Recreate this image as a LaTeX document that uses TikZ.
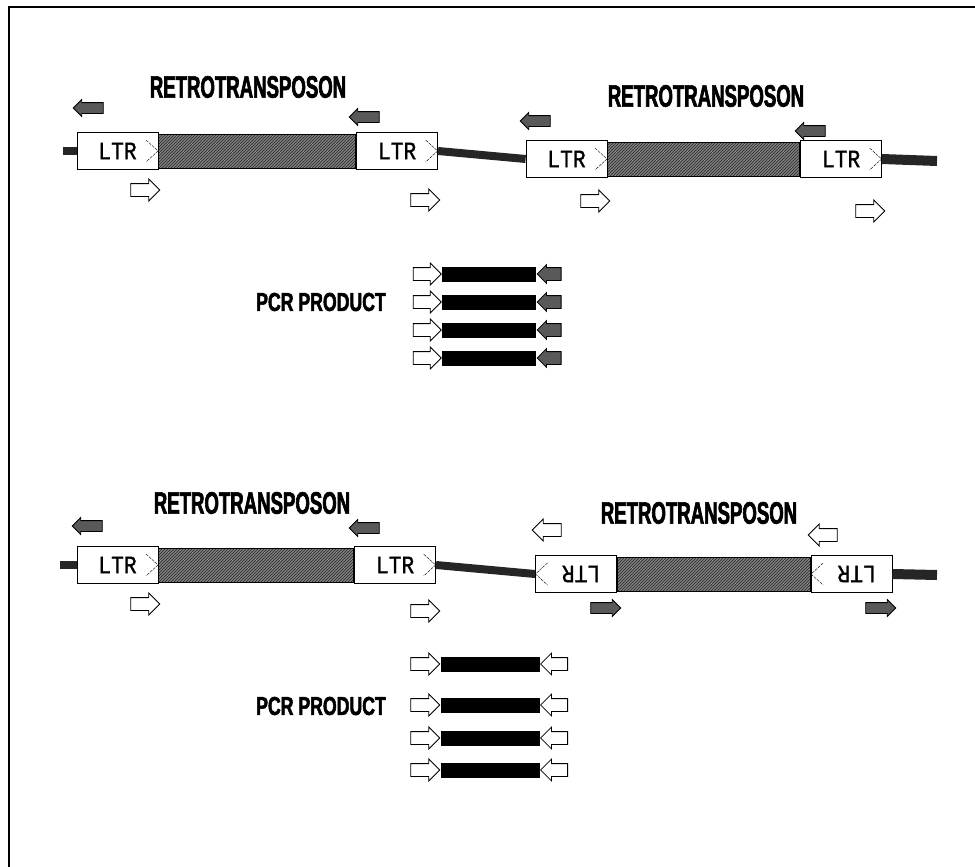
\documentclass[tikz,border=0pt]{standalone}
\usepackage{fontspec}
\usepackage{graphicx}
\usetikzlibrary{positioning,shapes.arrows,patterns}
\newfontfamily\titlefont[FakeStretch=0.6,FakeBold=2]{Liberation Sans}
\newfontfamily\pcrfont[FakeStretch=0.68,FakeBold=2]{Liberation Sans}
\newfontfamily\ltrfont[FakeStretch=0.85,FakeBold=1.2]{Liberation Mono}

\begin{document}
\begin{tikzpicture}[x=1pt,y=-1pt,thick,
  ltr/.style={draw,fill=white,minimum width=81pt,minimum height=37pt,inner sep=0pt,
    font=\ltrfont\fontsize{25}{25}\selectfont,
    path picture={\draw[thin,dash pattern=on 3pt off 1pt]
      ([xshift=-12pt,yshift=11pt]path picture bounding box.east)
      -- (path picture bounding box.east)
      -- ([xshift=-12pt,yshift=-11pt]path picture bounding box.east);}},
  rltr/.style={draw,fill=white,minimum width=81pt,minimum height=37pt,inner sep=0pt,
    font=\ltrfont\fontsize{25}{25}\selectfont,
    path picture={\draw[thin,dash pattern=on 3pt off 1pt]
      ([xshift=12pt,yshift=11pt]path picture bounding box.west)
      -- (path picture bounding box.west)
      -- ([xshift=12pt,yshift=-11pt]path picture bounding box.west);}},
  retrobody/.style={draw,minimum width=#1,minimum height=34pt,inner sep=0pt,
    preaction={fill=black!50},pattern=north east lines,pattern color=black!85},
  backbone/.style={line width=8pt,black!85},
  hprimer/.style={single arrow,draw,fill=white,minimum height=29pt,inner sep=6pt,
    single arrow head extend=4.5pt},
  dprimer/.style={single arrow,draw,fill=black!65,minimum height=30pt,inner sep=5pt,
    single arrow head extend=3pt},
  pcrbar/.style={fill=black,minimum height=15pt,inner sep=0pt},
  retrolabel/.style={inner sep=0pt,font=\titlefont\bfseries\fontsize{31}{31}\selectfont},
  pcrlabel/.style={inner sep=0pt,font=\pcrfont\bfseries\fontsize{26}{26}\selectfont}]
\useasboundingbox (0,0) rectangle (975,867);
\draw[line width=2.5pt] (9,867) -- (9,7) -- (975,7);

% upper pair, both forward
\node[retrolabel] (labA) at (248,87) {RETROTRANSPOSON};
\node[ltr] (ltrA1) at (117.5,151) {LTR\hspace{10pt}};
\node[retrobody=197pt,right=0pt of ltrA1] (bodyA) {};
\node[ltr,right=0pt of bodyA] (ltrA2) {LTR\hspace{10pt}};
\node[retrolabel] (labB) at (706,96) {RETROTRANSPOSON};
\node[ltr] (ltrB1) at (566.5,159) {LTR\hspace{10pt}};
\node[retrobody=192pt,right=0pt of ltrB1] (bodyB) {};
\node[ltr,right=0pt of bodyB] (ltrB2) {LTR\hspace{10pt}};
\coordinate (stubA) at (63,151);
\coordinate (stubB) at (937,161);
\draw[backbone] (stubA) -- (ltrA1.west);
\draw[backbone] (ltrA2.east) -- (ltrB1.west);
\draw[backbone,line width=10pt] (ltrB2.east) -- (stubB);
\node[dprimer,shape border rotate=180] (pA1) at (91,108) {};
\node[dprimer,shape border rotate=180] (pA2) at (367,117) {};
\node[dprimer,shape border rotate=180] (pB1) at (538,121) {};
\node[dprimer,shape border rotate=180] (pB2) at (813,131) {};
\node[hprimer] (qA1) at (142,190) {};
\node[hprimer] (qA2) at (422,200) {};
\node[hprimer] (qB1) at (592,201) {};
\node[hprimer] (qB2) at (867,211) {};

\node[pcrlabel] (pcrA) at (321,302) {PCR PRODUCT};
\foreach \i/\y in {1/274,2/302,3/330,4/358}{
  \node[hprimer,minimum height=28pt] (fwA\i) at (424,\y) {};
  \node[pcrbar,minimum width=94pt,right=0pt of fwA\i] (prodA\i) {};
  \node[dprimer,shape border rotate=180,minimum height=24pt,inner sep=6pt,
    right=0pt of prodA\i] (rvA\i) {};
}

% lower pair, second one reversed
\node[retrolabel] (labC) at (252,503) {RETROTRANSPOSON};
\node[ltr] (ltrC1) at (117.5,565) {LTR\hspace{10pt}};
\node[retrobody=195pt,right=0pt of ltrC1] (bodyC) {};
\node[ltr,right=0pt of bodyC] (ltrC2) {LTR\hspace{10pt}};
\node[retrolabel] (labD) at (699,513) {RETROTRANSPOSON};
\node[rltr] (ltrD1) at (576,574) {\hspace{10pt}\rotatebox{180}{LTR}};
\node[retrobody=193pt,right=0pt of ltrD1] (bodyD) {};
\node[rltr,right=0pt of bodyD] (ltrD2) {\hspace{10pt}\rotatebox{180}{LTR}};
\coordinate (stubC) at (60,565);
\coordinate (stubD) at (937,575);
\draw[backbone] (stubC) -- (ltrC1.west);
\draw[backbone] (ltrC2.east) -- (ltrD1.west);
\draw[backbone,line width=10pt] (ltrD2.east) -- (stubD);
\node[dprimer,shape border rotate=180] (pC1) at (90,526) {};
\node[dprimer,shape border rotate=180] (pC2) at (367,528) {};
\node[hprimer] (qC1) at (142,604) {};
\node[hprimer] (qC2) at (422,611) {};
\node[hprimer,shape border rotate=180] (qD1) at (550,530) {};
\node[hprimer,shape border rotate=180] (qD2) at (826,535) {};
\node[dprimer] (pD1) at (603,608) {};
\node[dprimer] (pD2) at (878,608) {};

\node[pcrlabel] (pcrB) at (321,706) {PCR PRODUCT};
\foreach \i/\y in {1/664,2/705,3/738,4/770}{
  \node[hprimer] (fwB\i) at (422,\y) {};
  \node[pcrbar,minimum width=99pt,right=0pt of fwB\i] (prodB\i) {};
  \node[hprimer,shape border rotate=180,minimum height=27pt,right=0pt of prodB\i] (rvB\i) {};
}
\end{tikzpicture}
\end{document}
